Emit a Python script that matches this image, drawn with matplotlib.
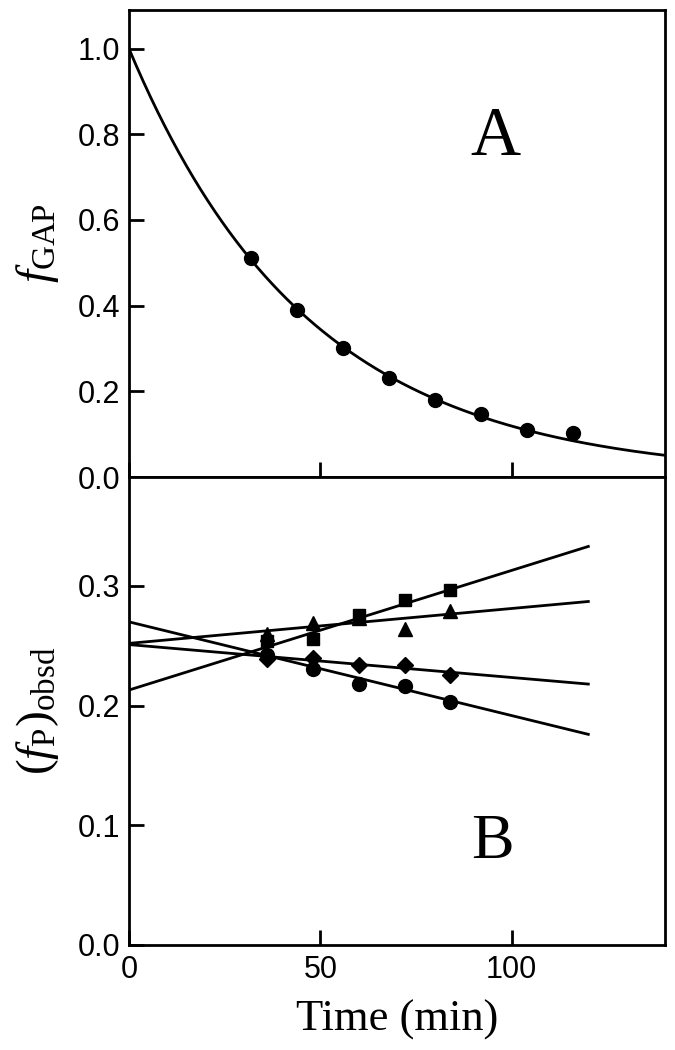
import numpy as np
import matplotlib
matplotlib.use("Agg")
import matplotlib.pyplot as plt

plt.rcParams['font.family'] = ['Liberation Sans', 'DejaVu Sans']
plt.rcParams['mathtext.fontset'] = 'custom'
plt.rcParams['mathtext.rm'] = 'Liberation Serif'
plt.rcParams['mathtext.it'] = 'Liberation Serif:italic'

# panel A: fraction of GAP remaining
time_a = [32, 44, 56, 68, 80, 92, 104, 116]
f_gap = [0.51, 0.39, 0.30, 0.23, 0.18, 0.148, 0.11, 0.102]
k_gap = 0.0213  # first-order fit, f = exp(-k t)

# panel B: observed product fraction
time_b = [36, 48, 60, 72, 84]
fp_square = [0.254, 0.256, 0.276, 0.288, 0.297]
fp_triangle = [0.260, 0.269, 0.273, 0.264, 0.279]
fp_diamond = [0.239, 0.240, 0.234, 0.234, 0.226]
fp_circle = [0.242, 0.231, 0.218, 0.216, 0.203]

# linear fits: value at t=0 and at t=120
fit_square = [0.213, 0.333]
fit_triangle = [0.252, 0.287]
fit_diamond = [0.251, 0.218]
fit_circle = [0.270, 0.176]
fit_t = [0, 120]

fig = plt.figure(figsize=(6.75, 10.5), dpi=100)
ax1 = fig.add_axes([0.191, 0.5457, 0.794, 0.4448])
ax2 = fig.add_axes([0.191, 0.1, 0.794, 0.4457])

for ax in (ax1, ax2):
    for sp in ax.spines.values():
        sp.set_linewidth(2)
    ax.tick_params(direction='in', length=11, width=2, labelsize=22,
                   top=False, right=False)
    ax.tick_params(axis='y', pad=6)
    ax.tick_params(axis='x', pad=7)
    ax.set_xlim(0, 140)
    ax.set_xticks([0, 50, 100])

# top panel
t_curve = np.linspace(0, 140, 300)
ax1.plot(t_curve, np.exp(-k_gap * t_curve), color='black', lw=2)
ax1.plot(time_a, f_gap, 'o', color='black', ms=10)
ax1.set_ylim(0, 1.09)
ax1.set_yticks([0.0, 0.2, 0.4, 0.6, 0.8, 1.0])
ax1.set_yticklabels(['0.0', '0.2', '0.4', '0.6', '0.8', '1.0'])
ax1.tick_params(axis='x', labelbottom=False)
ax1.set_ylabel(r'$f_{\mathrm{GAP}}$', fontsize=34, labelpad=12)
ax1.text(95.8, 0.751, 'A', fontsize=50, family='Liberation Serif',
         ha='center', va='baseline')

# bottom panel
for fit in (fit_square, fit_triangle, fit_diamond, fit_circle):
    ax2.plot(fit_t, fit, color='black', lw=2)
ax2.plot(time_b, fp_square, 's', color='black', ms=9)
ax2.plot(time_b, fp_triangle, '^', color='black', ms=10)
ax2.plot(time_b, fp_diamond, 'D', color='black', ms=8)
ax2.plot(time_b, fp_circle, 'o', color='black', ms=10)
ax2.set_ylim(0, 0.391)
ax2.set_yticks([0.0, 0.1, 0.2, 0.3])
ax2.set_yticklabels(['0.0', '0.1', '0.2', '0.3'])
ax2.set_ylabel(r'$(f_{\mathrm{P}})_{\mathrm{obsd}}$', fontsize=34, labelpad=12)
ax2.set_xlabel('Time (min)', fontsize=32, family='Liberation Serif', labelpad=11)
ax2.text(95, 0.073, 'B', fontsize=46, family='Liberation Serif',
         ha='center', va='baseline')

fig.savefig('out.png', dpi=100)
